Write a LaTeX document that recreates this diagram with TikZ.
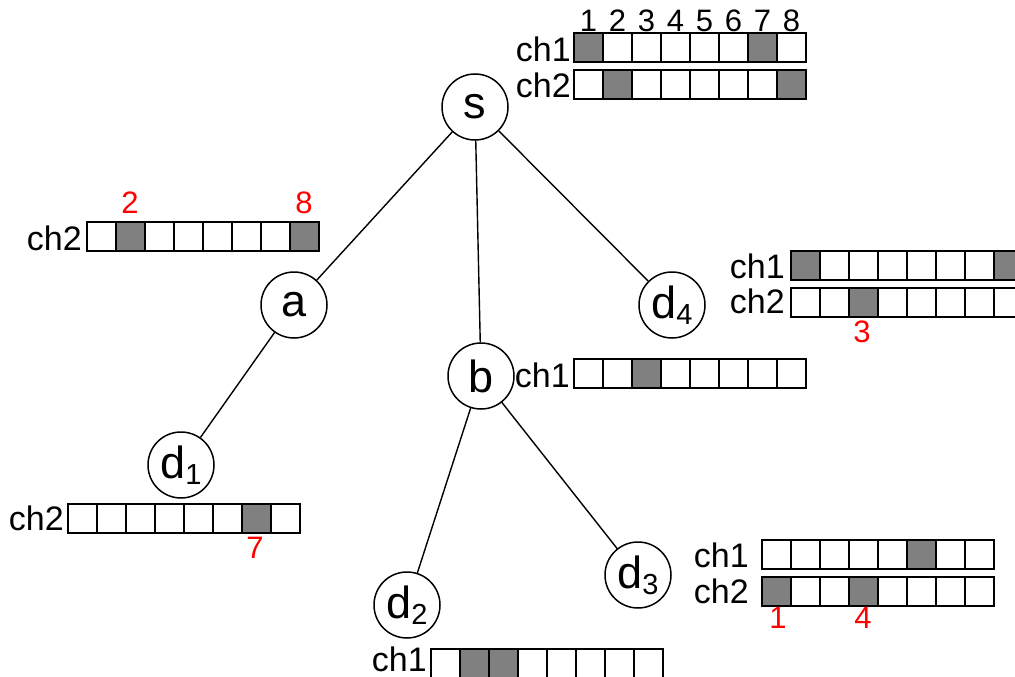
\documentclass[tikz,border=0pt]{standalone}
\usepackage{fontspec}
\setmainfont{Liberation Sans}
\begin{document}
\begin{tikzpicture}[x=1pt,y=-1pt,
  vertex/.style={draw,circle,line width=1.5pt,minimum size=66pt,inner sep=0pt,font=\fontsize{45}{45}\selectfont},
  edge/.style={line width=1.4pt},
  cell/.style={draw,line width=1.6pt},
  lab/.style={anchor=base east,inner sep=0pt,font=\fontsize{34}{34}\selectfont},
  red lab/.style={anchor=base,inner sep=0pt,text=red,font=\fontsize{31}{31}\selectfont},
  num/.style={anchor=base,inner sep=0pt,font=\fontsize{31}{31}\selectfont}]
\definecolor{cellgray}{RGB}{128,128,128}
\newcommand{\chrow}[3]{%
  \foreach \i in {1,...,8} {\draw[cell,fill=white] ({#1+(\i-1)*29},#2) rectangle ++(29,29);}
  \foreach \i in {#3} {\draw[cell,fill=cellgray] ({#1+(\i-1)*29},#2) rectangle ++(29,29);}}
\newcommand{\sub}[1]{\raisebox{-6pt}{\fontsize{29}{29}\selectfont #1}}
\useasboundingbox (0,0) rectangle (1015,677);
\clip (0,0) rectangle (1015,677);
% nodes
\node[vertex] (s) at (475,107) {s};
\node[vertex] (a) at (294,305) {a};
\node[vertex] (d4) at (672,305) {d\sub{4}};
\node[vertex] (b) at (481,376) {b};
\node[vertex] (d1) at (181,465) {d\sub{1}};
\node[vertex] (d2) at (407,605) {d\sub{2}};
\node[vertex] (d3) at (638,575) {d\sub{3}};
% edges
\draw[edge] (s) -- (a);
\draw[edge] (s) -- (b);
\draw[edge] (s) -- (d4);
\draw[edge] (a) -- (d1);
\draw[edge] (b) -- (d2);
\draw[edge] (b) -- (d3);
% s channels
\foreach \i in {1,...,8} {\node[num] (n\i) at ({574+(\i-0.5)*29},32) {\i};}
\node[lab] (sch1) at (571,62) {ch1};
\node[lab] (sch2) at (571,97) {ch2};
\chrow{574}{33}{1,7}
\chrow{574}{70}{2,8}
% a channel
\node[lab] (ach2) at (82,250) {ch2};
\chrow{87}{222}{2,8}
\node[red lab] (a2) at (130,213) {2};
\node[red lab] (a8) at (304,213) {8};
% d4 channels
\node[lab] (d4ch1) at (785,278) {ch1};
\node[lab] (d4ch2) at (785,313) {ch2};
\chrow{791}{251}{1,8}
\chrow{791}{288}{3}
\node[red lab] (d43) at (862,342) {3};
% b channel
\node[lab] (bch1) at (570,387) {ch1};
\chrow{574}{359}{3}
% d1 channel
\node[lab] (d1ch2) at (64,530) {ch2};
\chrow{68}{504}{7}
\node[red lab] (d17) at (255,558) {7};
% d2 channel
\node[lab] (d2ch1) at (427,671) {ch1};
\chrow{431}{649}{2,3}
% d3 channels
\node[lab] (d3ch1) at (749,567) {ch1};
\node[lab] (d3ch2) at (749,603) {ch2};
\chrow{762}{540}{6}
\chrow{762}{577}{1,4}
\node[red lab] (d31) at (778,628) {1};
\node[red lab] (d34) at (863,628) {4};
\end{tikzpicture}
\end{document}
